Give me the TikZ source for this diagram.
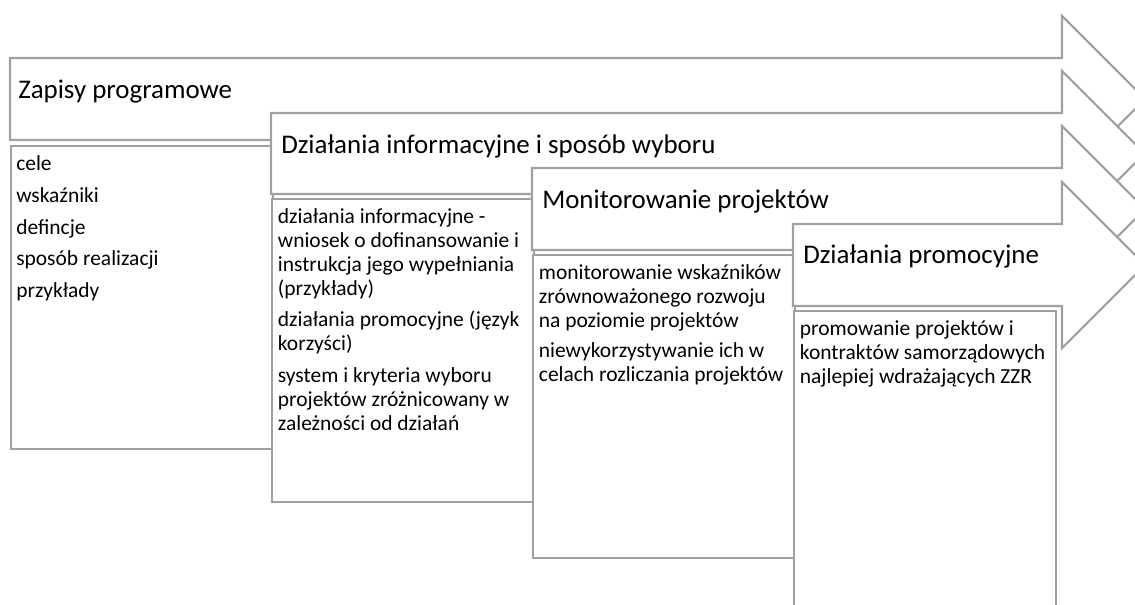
\documentclass[tikz,border=0pt]{standalone}
\usepackage{fontspec}
\setmainfont{Carlito}
\usetikzlibrary{positioning}

\definecolor{framegray}{RGB}{160,160,160}

\tikzset{
  stage/.style={draw=framegray, line width=1.6pt, fill=white, line join=miter},
  listbox/.style={rectangle, draw=framegray, line width=1.7pt, fill=white, anchor=north west, minimum width=196.5pt, minimum height=227pt, inner sep=0pt},
  stagetitle/.style={anchor=base west, inner sep=0pt, font=\fontsize{20.2}{24}\selectfont},
  listtext/.style={anchor=north west, inner sep=0pt, align=left, font=\fontsize{16.1}{18}\selectfont}
}

\begin{document}
\begin{tikzpicture}[x=0.75pt, y=-0.75pt]
        \useasboundingbox (0,0) rectangle (1135,605);
        \clip (0,0) rectangle (1135,605);

        % Zapisy programowe
        \draw[stage] (10,58) -- (1062,58) -- (1062,16) -- (1145,99) -- (1062,182) -- (1062,140) -- (10,140) -- cycle;
        \node (zapisy) [stagetitle] at (18,99) {Zapisy programowe};
        \node (zapisyList) [listbox] at (10,145) {};
        \node (zapisyText) [listtext, below right=6.4pt and 4.5pt of zapisyList.north west] {\strut cele\\[5.8pt] wskaźniki\\[5.8pt] defincje\\[5.8pt] sposób realizacji\\[5.8pt] przykłady};

        % Dzialania informacyjne
        \draw[stage] (271,113) -- (1062,113) -- (1062,71) -- (1144.5,153.5) -- (1062,236) -- (1062,194) -- (271,194) -- cycle;
        \node (dzialania) [stagetitle] at (281,154) {Działania informacyjne i sposób wyboru};
        \node (dzialaniaList) [listbox] at (271,198) {};
        \node (dzialaniaText) [listtext, below right=6.15pt and 5pt of dzialaniaList.north west] {\strut działania informacyjne -\\ wniosek o dofinansowanie i\\ instrukcja jego wypełniania\\ (przykłady)\\[5.8pt] działania promocyjne (język\\ korzyści)\\[5.8pt] system i kryteria wyboru\\ projektów zróżnicowany w\\ zależności od działań};

        % Monitorowanie
        \draw[stage] (532,168) -- (1062,168) -- (1062,126) -- (1145,209) -- (1062,292) -- (1062,250) -- (532,250) -- cycle;
        \node (monitor) [stagetitle] at (542,209) {Monitorowanie projektów};
        \node (monitorList) [listbox] at (532,254) {};
        \node (monitorText) [listtext, below right=6.15pt and 5pt of monitorList.north west] {\strut monitorowanie wskaźników\\ zrównoważonego rozwoju\\ na poziomie projektów\\[5pt] niewykorzystywanie ich w\\ celach rozliczania projektów};

        % Dzialania promocyjne
        \draw[stage] (793,224) -- (1062,224) -- (1062,182) -- (1145,265) -- (1062,348) -- (1062,306) -- (793,306) -- cycle;
        \node (promocja) [stagetitle] at (803,264) {Działania promocyjne};
        \node (promocjaList) [listbox] at (793,310) {};
        \node (promocjaText) [listtext, below right=6.15pt and 5pt of promocjaList.north west] {\strut promowanie projektów i\\ kontraktów samorządowych\\ najlepiej wdrażających ZZR};
\end{tikzpicture}
\end{document}
